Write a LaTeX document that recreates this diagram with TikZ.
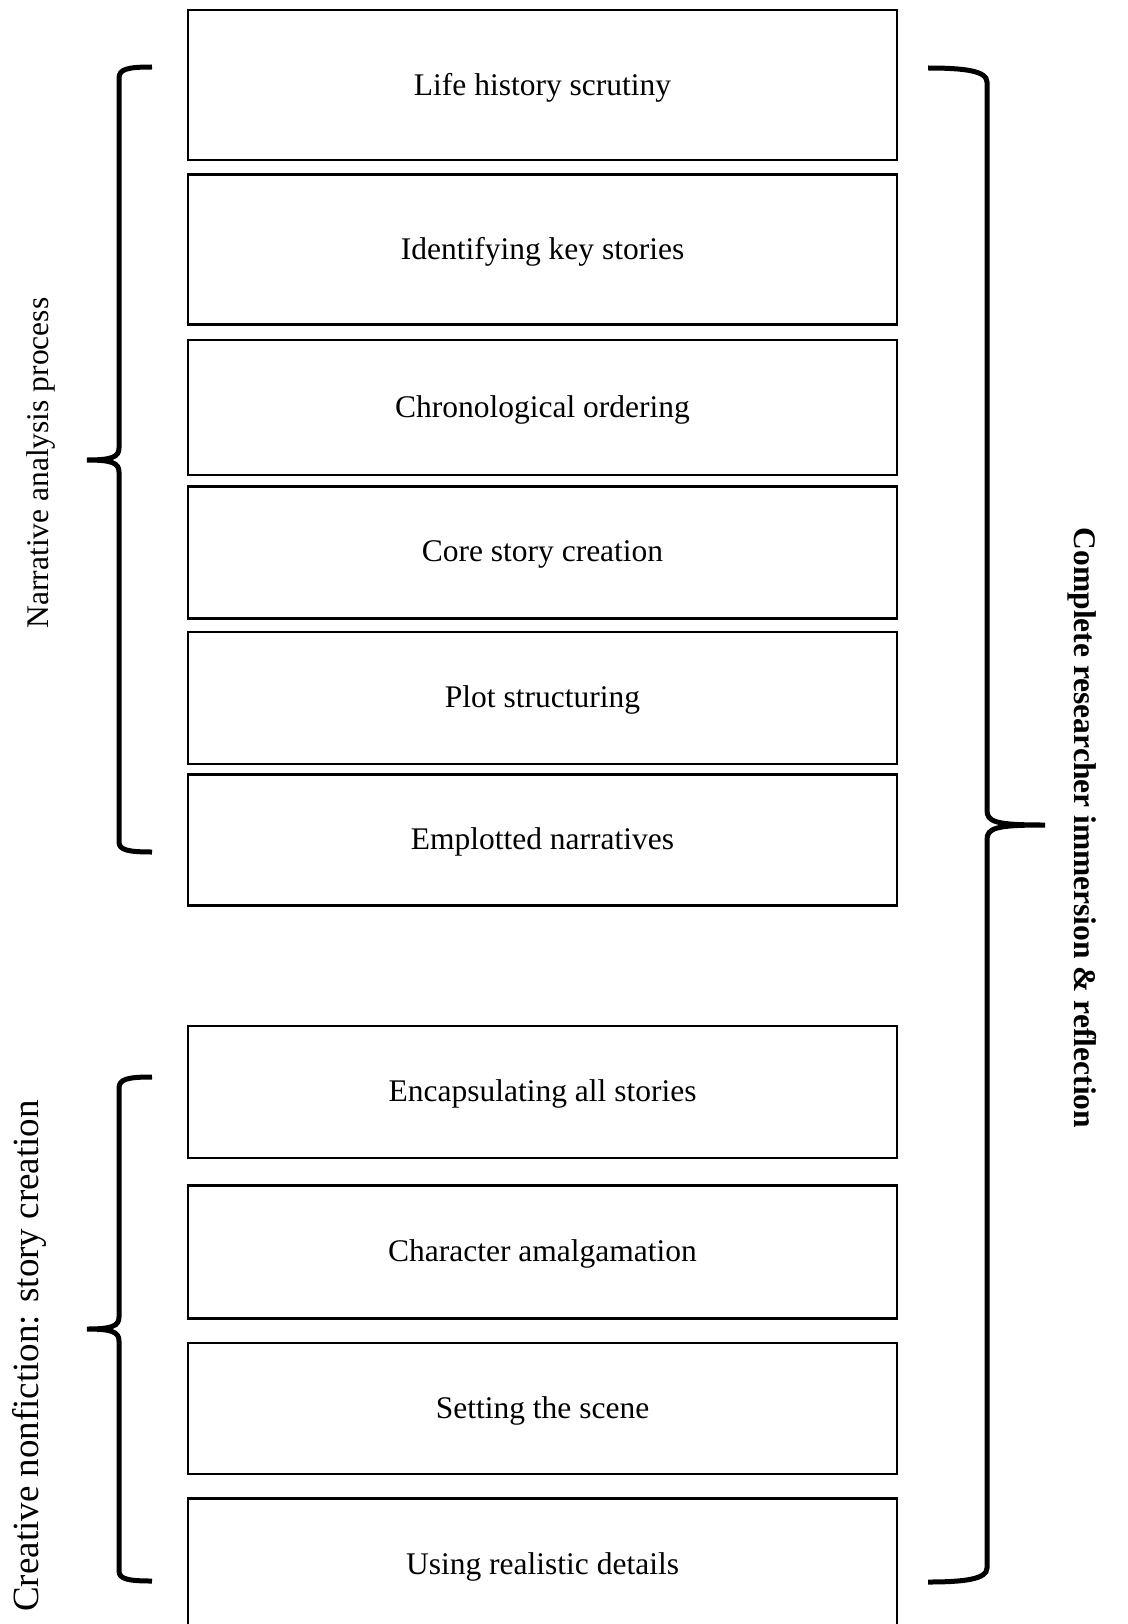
\documentclass[tikz,border=0pt]{standalone}
\usepackage{fontspec}
\setmainfont{Liberation Serif}
\usetikzlibrary{positioning}

\begin{document}
\begin{tikzpicture}[
			x=1pt,
			y=-1pt,
			stepbox/.style={
				draw,
				line width=2.5pt,
				minimum width=709pt,
				inner sep=0pt,
				text depth=2pt,
				align=center,
				font=\fontsize{31.5}{38}\selectfont
			},
			sidelabel/.style={
				font=\fontsize{31.5}{38}\selectfont
			},
			bracket/.style={
				line width=5pt
			}
			]
			
			\useasboundingbox (0,0) rectangle (1127,1624);
			
			%%%%%%%%%%%%%%%%%%%%%%%%%%%%%%%%%%%%%%%%%%%%%%%%%%%%%%%%%%%%
			% Narrative analysis steps
			%%%%%%%%%%%%%%%%%%%%%%%%%%%%%%%%%%%%%%%%%%%%%%%%%%%%%%%%%%%%
			
			\node (life) [stepbox, minimum height=150pt] at (542.5,85)
			{Life history scrutiny};
			
			\node (keystories) [stepbox, minimum height=150pt, below=12pt of life]
			{Identifying key stories};
			
			\node (chrono) [stepbox, minimum height=135pt, below=13pt of keystories]
			{Chronological ordering};
			
			\node (core) [stepbox, minimum height=132pt, below=9pt of chrono]
			{Core story creation};
			
			\node (plot) [stepbox, minimum height=132pt, below=11pt of core]
			{Plot structuring};
			
			\node (emplot) [stepbox, minimum height=131pt, below=8pt of plot]
			{Emplotted narratives};
			
			%%%%%%%%%%%%%%%%%%%%%%%%%%%%%%%%%%%%%%%%%%%%%%%%%%%%%%%%%%%%
			% Creative nonfiction steps
			%%%%%%%%%%%%%%%%%%%%%%%%%%%%%%%%%%%%%%%%%%%%%%%%%%%%%%%%%%%%
			
			\node (encaps) [stepbox, minimum height=132pt, below=118pt of emplot]
			{Encapsulating all stories};
			
			\node (charact) [stepbox, minimum height=133pt, below=25pt of encaps]
			{Character amalgamation};
			
			\node (scene) [stepbox, minimum height=131pt, below=22pt of charact]
			{Setting the scene};
			
			\node (details) [stepbox, minimum height=132pt, below=22pt of scene]
			{Using realistic details};
			
			%%%%%%%%%%%%%%%%%%%%%%%%%%%%%%%%%%%%%%%%%%%%%%%%%%%%%%%%%%%%
			% Braces
			%%%%%%%%%%%%%%%%%%%%%%%%%%%%%%%%%%%%%%%%%%%%%%%%%%%%%%%%%%%%
			
			% Narrative analysis
			
			\draw[bracket]
			(152,67) .. controls (128,67) and (119,69) .. (119,78)
			-- (119,448) .. controls (119,457) and (112,460) .. (87,460)
			.. controls (112,460) and (119,463) .. (119,472)
			-- (119,842) .. controls (119,850) and (128,852) .. (152,852);
			
			% Creative nonfiction
			
			\draw[bracket]
			(152,1077) .. controls (128,1077) and (119,1079) .. (119,1088)
			-- (119,1317) .. controls (119,1326) and (112,1329) .. (87,1329)
			.. controls (112,1329) and (119,1332) .. (119,1341)
			-- (119,1571) .. controls (119,1579) and (128,1581) .. (152,1581);
			
			% Immersion
			
			\draw[bracket]
			(928,68) .. controls (965,68) and (987,71) .. (987,82)
			-- (987,810) .. controls (987,822) and (995,825) .. (1045,825)
			.. controls (995,825) and (987,828) .. (987,840)
			-- (987,1568) .. controls (987,1579) and (965,1582) .. (928,1582);
			
			%%%%%%%%%%%%%%%%%%%%%%%%%%%%%%%%%%%%%%%%%%%%%%%%%%%%%%%%%%%%
			% Side labels
			%%%%%%%%%%%%%%%%%%%%%%%%%%%%%%%%%%%%%%%%%%%%%%%%%%%%%%%%%%%%
			
			\node (narrlabel) [sidelabel, rotate=90] at (41,463)
			{Narrative analysis process};
			
			\node (cnflabel) [sidelabel, font=\fontsize{37}{44}\selectfont, rotate=90] at (29,1356)
			{Creative nonfiction: story creation};
			
			\node (immlabel) [sidelabel, font=\fontsize{31.5}{38}\selectfont\bfseries, rotate=-90] at (1082,828)
			{Complete researcher immersion \& reflection};
			
		\end{tikzpicture}
\end{document}
